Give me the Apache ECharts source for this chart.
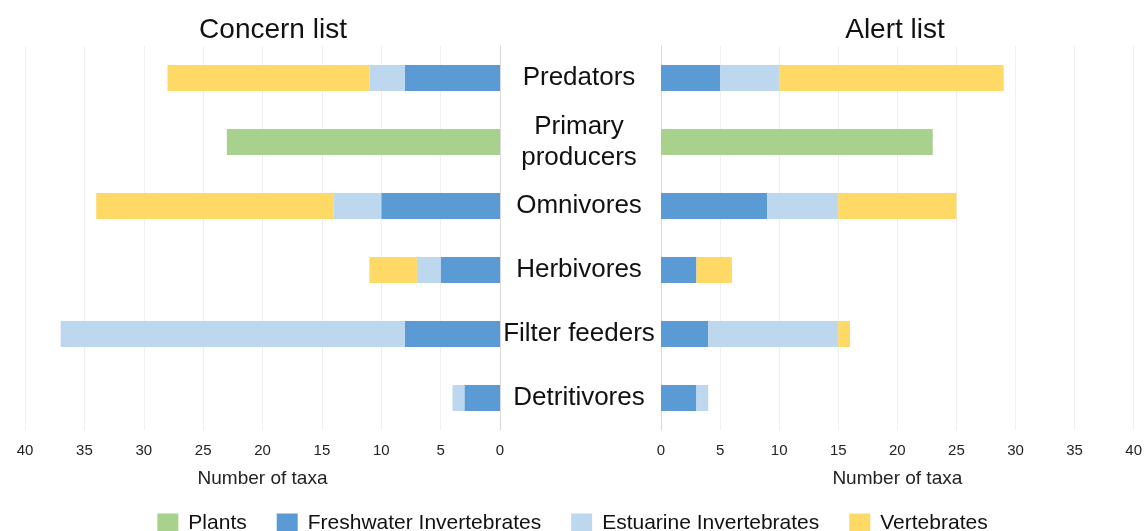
<!DOCTYPE html>
<html>
<head>
<meta charset="utf-8">
<script src="https://cdn.jsdelivr.net/npm/echarts@6/dist/echarts.min.js"></script>
<style>
  html, body { margin: 0; padding: 0; background: #fff; }
  #chart { width: 1145px; height: 531px; }
</style>
</head>
<body>
<div id="chart"></div>
<script>
var categories = ['Predators', 'Primary\nproducers', 'Omnivores', 'Herbivores', 'Filter feeders', 'Detritivores'];
var seriesNames = ['Plants', 'Freshwater Invertebrates', 'Estuarine Invertebrates', 'Vertebrates'];
var colors = ['#a9d18e', '#5b9bd5', '#bdd7ee', '#ffd966'];

// concern list (left side)
var concernPlants     = [0, 23, 0, 0, 0, 0];
var concernFreshwater = [8, 0, 10, 5, 8, 3];
var concernEstuarine  = [3, 0, 4, 2, 29, 1];
var concernVert       = [17, 0, 20, 4, 0, 0];

// alert list (right side)
var alertPlants     = [0, 23, 0, 0, 0, 0];
var alertFreshwater = [5, 0, 9, 3, 4, 3];
var alertEstuarine  = [5, 0, 6, 0, 11, 1];
var alertVert       = [19, 0, 10, 3, 1, 0];

var font = 'Liberation Sans, Arial, sans-serif';
var myChart = echarts.init(document.getElementById('chart'));

function makeSeries(idx, data) {
    return seriesNames.map(function (name, i) {
        return {
            name: name,
            type: 'bar',
            stack: 'g' + idx,
            xAxisIndex: idx,
            yAxisIndex: idx,
            barWidth: 26,
            itemStyle: { color: colors[i] },
            data: data[i]
        };
    });
}

function xAxis(idx, inverse) {
    return {
        type: 'value',
        gridIndex: idx,
        min: 0,
        max: 40,
        interval: 5,
        inverse: inverse,
        name: 'Number of taxa',
        nameLocation: 'middle',
        nameGap: 39,
        nameTextStyle: { fontFamily: font, fontSize: 19, color: '#222' },
        axisLine: { show: false },
        axisTick: { show: false },
        axisLabel: { fontFamily: font, fontSize: 15, color: '#222', margin: 13 },
        splitLine: { lineStyle: { color: '#efefef' } }
    };
}

var option = {
    animation: false,
    title: [
        { text: 'Concern list', left: 268, top: 11, textAlign: 'center',
          textStyle: { fontFamily: font, fontSize: 28, fontWeight: 'normal', color: '#111' } },
        { text: 'Alert list', left: 890, top: 11, textAlign: 'center',
          textStyle: { fontFamily: font, fontSize: 28, fontWeight: 'normal', color: '#111' } }
    ],
    legend: {
        data: seriesNames,
        top: 508,
        left: 'center',
        itemWidth: 21,
        itemHeight: 20,
        itemGap: 30,
        icon: 'rect',
        textStyle: { fontFamily: font, fontSize: 21, color: '#111', padding: [0, 0, 0, 5] }
    },
    grid: [
        { left: 25, right: 645, top: 46, height: 384 },
        { left: 661, right: 7, top: 46, height: 384 }
    ],
    xAxis: [xAxis(0, true), xAxis(1, false)],
    yAxis: [
        {
            type: 'category',
            gridIndex: 0,
            data: categories,
            inverse: true,
            position: 'right',
            axisLine: { lineStyle: { color: '#d9d9d9' } },
            axisTick: { show: false },
            axisLabel: {
                fontFamily: font, fontSize: 26, color: '#111',
                align: 'center', margin: 79, lineHeight: 31
            }
        },
        {
            type: 'category',
            gridIndex: 1,
            data: categories,
            inverse: true,
            axisLine: { lineStyle: { color: '#d9d9d9' } },
            axisTick: { show: false },
            axisLabel: { show: false }
        }
    ],
    series: makeSeries(0, [concernPlants, concernFreshwater, concernEstuarine, concernVert])
        .concat(makeSeries(1, [alertPlants, alertFreshwater, alertEstuarine, alertVert]))
};

myChart.setOption(option);
</script>
</body>
</html>
